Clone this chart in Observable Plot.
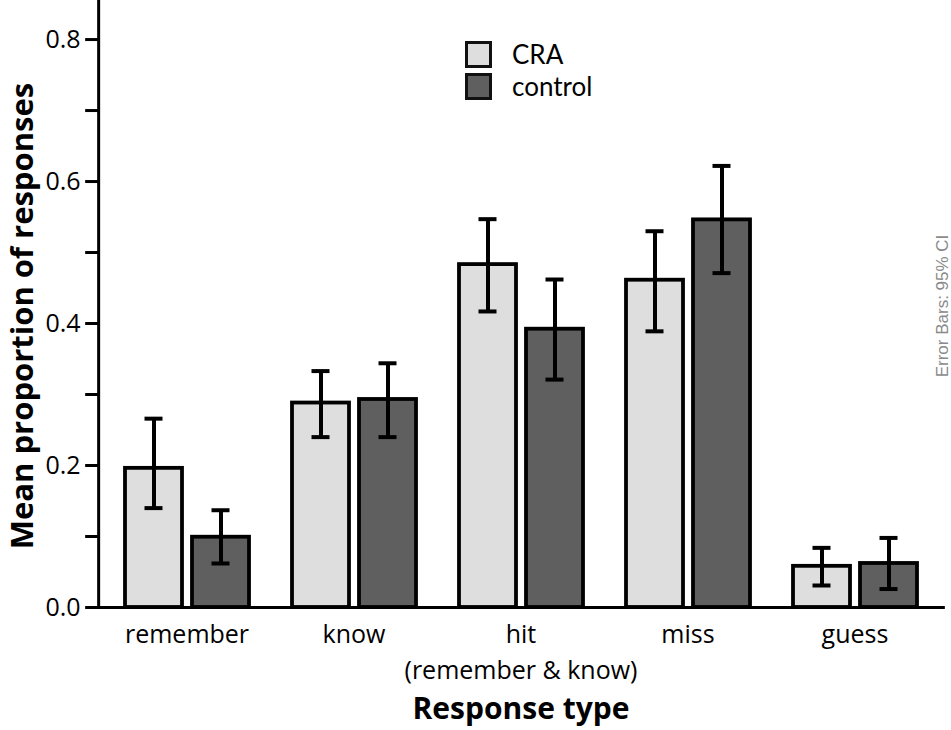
<!DOCTYPE html>
<html><head><meta charset="utf-8">
<script src="https://cdn.jsdelivr.net/npm/d3@7"></script>
<script src="https://cdn.jsdelivr.net/npm/@observablehq/plot@0.6"></script>
<style>
body{margin:0;background:#fff;}
#wrap{position:relative;width:951px;height:730px;}
.legend{position:absolute;left:465px;top:38px;font-family:Lato,"Open Sans";font-size:26px;line-height:28px;color:#000;}
.item{display:flex;align-items:center;height:32px;}
.sw{width:21px;height:21px;border:3px solid #111;margin-right:20px;box-sizing:content-box;}
</style></head><body><div id="wrap"></div>
<script>
const categories = ["remember","know","hit","miss","guess"];
const tickLabels = ["remember","know","hit\n(remember & know)","miss","guess"];
const groups = ["CRA","control"];
const craMean = [0.196,0.288,0.483,0.461,0.058];
const craLow  = [0.140,0.240,0.417,0.389,0.031];
const craHigh = [0.266,0.333,0.547,0.530,0.084];
const ctrlMean = [0.099,0.293,0.392,0.546,0.062];
const ctrlLow  = [0.062,0.240,0.321,0.471,0.026];
const ctrlHigh = [0.137,0.344,0.462,0.622,0.098];
const yTicks = [0,0.2,0.4,0.6,0.8];
const yMinor = [0.1,0.3,0.5,0.7];
const colors = ["#dedede","#5f5f5f"];
const yTitle = "Mean proportion of responses";
const xTitle = "Response type";
const note = "Error Bars: 95% CI";

const rows = [];
categories.forEach((c,i)=>{
  rows.push({cat:c, group:"CRA", mean:craMean[i], lo:craLow[i], hi:craHigh[i]});
  rows.push({cat:c, group:"control", mean:ctrlMean[i], lo:ctrlLow[i], hi:ctrlHigh[i]});
});

const W = 951, H = 730, ML = 96, MR = 6;
const fxPadIn = 0.25, fxPadOut = 0.154;
// gap between the plot margin and the first facet (the y axis sits on the margin)
const firstFacet = d3.scaleBand().domain(categories).range([ML, W - MR]).paddingInner(fxPadIn).paddingOuter(fxPadOut)(categories[0]);
const shift = firstFacet - ML;

const chart = Plot.plot({
  width: W, height: H,
  marginLeft: ML, marginRight: MR, marginTop: 0, marginBottom: 123,
  style: {fontFamily: "'Open Sans'", fontSize: "25px", color: "#000", background: "#fff"},
  fx: {domain: categories, range: [ML, W - MR], paddingInner: fxPadIn, paddingOuter: fxPadOut, axis: null, label: null},
  x: {domain: groups, paddingInner: 0.15, paddingOuter: 0, axis: null},
  y: {domain: [0, 0.855], axis: null},
  color: {domain: groups, range: colors},
  marks: [
    Plot.barY(rows, {fx: "cat", x: "group", y: "mean", fill: "group", stroke: "#000", strokeWidth: 3.8}),
    Plot.ruleX(rows, {fx: "cat", x: "group", y1: "lo", y2: "hi", stroke: "#000", strokeWidth: 4}),
    Plot.tickY(rows, {fx: "cat", x: "group", y: "hi", stroke: "#000", strokeWidth: 4, inset: 19.5}),
    Plot.tickY(rows, {fx: "cat", x: "group", y: "lo", stroke: "#000", strokeWidth: 4, inset: 19.5}),
    Plot.axisFx({anchor: "bottom", tickSize: 0, tickPadding: 10, fontSize: 25, lineHeight: 1.45, label: null,
      tickFormat: d => tickLabels[categories.indexOf(d)]}),
    Plot.frame({anchor: "left", facet: "super", stroke: "#000", strokeWidth: 3, insetLeft: -shift, insetRight: -shift}),
    Plot.frame({anchor: "bottom", facet: "super", stroke: "#000", strokeWidth: 3, insetLeft: -shift, insetRight: -shift}),
    Plot.axisY({ticks: yTicks, dx: -shift, tickSize: 13, tickPadding: 5, strokeWidth: 3, fontSize: 25, label: null, tickFormat: d3.format(".1f")}),
    Plot.axisY({ticks: yMinor, dx: -shift, tickSize: 13, strokeWidth: 3, text: null, label: null}),
    Plot.text([yTitle], {facet: "super", text: d => d, frameAnchor: "left", textAnchor: "middle", rotate: -90, lineAnchor: "top", dx: 8 - firstFacet, dy: 12, fontSize: 31, fontWeight: "bold"}),
    Plot.text([xTitle], {facet: "super", text: d => d, frameAnchor: "bottom", textAnchor: "middle", lineAnchor: "bottom", dy: 111, fontSize: 30, fontWeight: "bold"}),
    Plot.text([note], {facet: "super", text: d => d, frameAnchor: "right", textAnchor: "middle", rotate: -90, lineAnchor: "bottom", dx: 5 + shift, dy: 2, fontSize: 17, fontFamily: "'Liberation Sans', Arial", fill: "#8a8a8a"})
  ]
});

const wrap = document.getElementById("wrap");
wrap.appendChild(chart);
const legend = document.createElement("div");
legend.className = "legend";
groups.forEach((g,i)=>{
  const it = document.createElement("div"); it.className = "item";
  const sw = document.createElement("div"); sw.className = "sw"; sw.style.background = colors[i];
  const tx = document.createElement("span"); tx.textContent = g;
  it.appendChild(sw); it.appendChild(tx); legend.appendChild(it);
});
wrap.appendChild(legend);
</script></body></html>
